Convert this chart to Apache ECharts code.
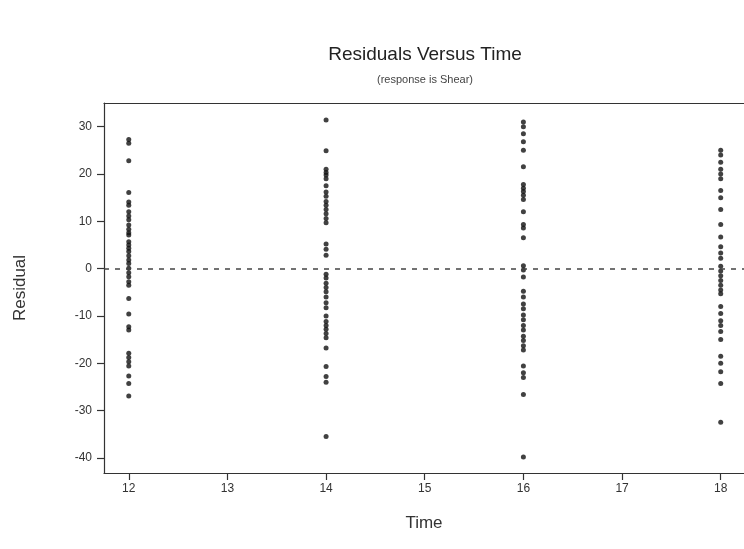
<!DOCTYPE html>
<html>
<head>
<meta charset="utf-8">
<script src="https://cdn.jsdelivr.net/npm/echarts@6/dist/echarts.min.js"></script>
<style>
  html, body { margin: 0; padding: 0; background: #fff; }
  #chart { width: 744px; height: 549px; }
</style>
</head>
<body>
<div id="chart"></div>
<script>
// residuals, one list per time value
const times = [12, 14, 16, 18];
const resid12 = [27.3, 26.5, 22.8, 16.1, 14.1, 13.4, 12.0, 11.1, 10.3, 9.2, 8.3, 7.6, 7.1, 5.7, 5.0, 4.3, 3.6, 2.7, 1.8, 1.1, 0.1, -0.9, -1.7, -2.8, -3.5, -6.3, -9.6, -12.3, -13.0, -17.9, -18.8, -19.7, -20.6, -22.7, -24.3, -26.9];
const resid14 = [31.4, 24.9, 21.0, 20.3, 19.8, 19.0, 17.5, 16.2, 15.3, 14.2, 13.4, 12.5, 11.6, 10.6, 9.7, 5.2, 4.1, 2.8, -1.2, -2.0, -3.1, -4.0, -4.9, -6.0, -7.2, -8.3, -10.0, -11.2, -12.0, -12.8, -13.7, -14.6, -16.8, -20.7, -22.8, -24.0, -35.5];
const resid16 = [31.0, 30.0, 28.5, 26.8, 25.0, 21.5, 17.8, 17.0, 16.3, 15.5, 14.6, 12.0, 9.3, 8.6, 6.5, 0.6, -0.3, -1.8, -4.8, -6.0, -7.5, -8.5, -9.8, -10.8, -12.0, -13.0, -14.3, -15.2, -16.3, -17.2, -20.6, -22.0, -23.0, -26.6, -39.8];
const resid18 = [25.0, 24.0, 22.5, 21.0, 20.0, 19.0, 16.5, 15.0, 12.5, 9.3, 6.7, 4.6, 3.3, 2.2, 0.5, -0.5, -1.5, -2.5, -3.5, -4.5, -5.3, -8.0, -9.5, -11.0, -12.0, -13.3, -15.0, -18.5, -20.0, -21.8, -24.3, -32.5];
const xTicks = [12, 13, 14, 15, 16, 17, 18];
const yTicks = [-40, -30, -20, -10, 0, 10, 20, 30];

const columns = [resid12, resid14, resid16, resid18];
const points = [];
columns.forEach((col, i) => {
  col.forEach(v => points.push([times[i], v]));
});

const chart = echarts.init(document.getElementById('chart'));
const fontFamily = '"Liberation Sans", Arial, sans-serif';
const frame = { show: true, onZero: false, lineStyle: { color: '#333', width: 1.2 } };
// x range chosen so the right edge of the frame runs off the picture
const xMin = 11.749;
const xMax = 18.236;

const option = {
  animation: false,
  title: {
    text: 'Residuals Versus Time',
    subtext: '(response is Shear)',
    left: 420,
    textAlign: 'center',
    top: 40,
    itemGap: 10,
    textStyle: { fontFamily, fontSize: 19, fontWeight: 'normal', color: '#222' },
    subtextStyle: { fontFamily, fontSize: 11, color: '#444' }
  },
  grid: {
    left: 104,
    top: 103,
    bottom: 76,
    right: 0,
    show: false
  },
  xAxis: [
    {
      type: 'value',
      min: xMin,
      max: xMax,
      name: 'Time',
      nameLocation: 'middle',
      nameGap: 42,
      nameTextStyle: { fontFamily, fontSize: 17, color: '#333' },
      splitLine: { show: false },
      axisLine: frame,
      axisTick: { show: true, inside: false, length: 7, customValues: xTicks, lineStyle: { color: '#333', width: 1.2 } },
      axisLabel: { customValues: xTicks, fontFamily, fontSize: 12, color: '#333', margin: 10 }
    },
    {
      // top edge of the frame only
      type: 'value',
      position: 'top',
      min: xMin,
      max: xMax,
      splitLine: { show: false },
      axisLine: frame,
      axisTick: { show: false },
      axisLabel: { show: false }
    }
  ],
  yAxis: {
    type: 'value',
    min: -43.2,
    max: 35,
    name: 'Residual',
    nameLocation: 'middle',
    nameGap: 75,
    nameTextStyle: { fontFamily, fontSize: 17, color: '#333' },
    splitLine: { show: false },
    axisLine: frame,
    axisTick: { show: true, inside: false, length: 7, customValues: yTicks, lineStyle: { color: '#333', width: 1.2 } },
    axisLabel: { customValues: yTicks, fontFamily, fontSize: 12, color: '#333', margin: 12 }
  },
  series: [
    {
      type: 'scatter',
      data: points,
      symbol: 'circle',
      symbolSize: 5,
      itemStyle: { color: '#111' },
      markLine: {
        silent: true,
        symbol: 'none',
        label: { show: false },
        lineStyle: { type: [5, 6], color: '#444', width: 1.5 },
        data: [{ yAxis: 0 }]
      }
    }
  ]
};

chart.setOption(option);
</script>
</body>
</html>
